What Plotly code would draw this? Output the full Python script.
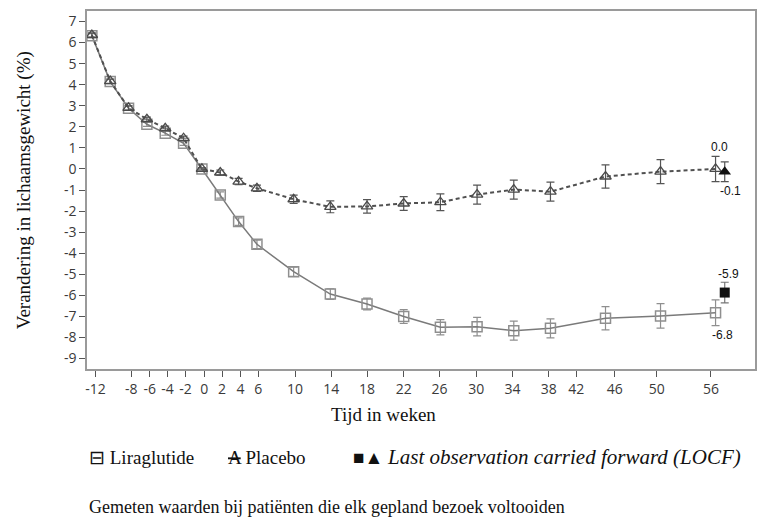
import plotly.graph_objects as go

# ---- data ----
weeks = [-12, -10, -8, -6, -4, -2, 0, 2, 4, 6, 10, 14, 18, 22, 26, 30, 34, 38, 44, 50, 56]
lira = [6.33, 4.15, 2.88, 2.12, 1.70, 1.22, 0.0, -1.24, -2.50, -3.58, -4.88, -5.94, -6.41, -7.01,
        -7.52, -7.49, -7.68, -7.57, -7.09, -6.98, -6.83]
lira_err = [0.1, 0.1, 0.1, 0.1, 0.1, 0.1, 0.05, 0.15, 0.18, 0.2, 0.22, 0.25, 0.28, 0.33,
            0.36, 0.44, 0.45, 0.45, 0.55, 0.58, 0.61]
placebo = [6.36, 4.17, 2.90, 2.36, 1.93, 1.46, 0.0, -0.17, -0.60, -0.92, -1.44, -1.80, -1.78,
           -1.64, -1.58, -1.22, -0.98, -1.08, -0.36, -0.13, 0.0]
placebo_err = [0.1, 0.1, 0.1, 0.1, 0.1, 0.1, 0.05, 0.12, 0.15, 0.15, 0.2, 0.28, 0.32, 0.33,
               0.4, 0.45, 0.45, 0.45, 0.55, 0.57, 0.6]
locf_week = 57
locf_lira = -5.87
locf_lira_err = 0.49
locf_placebo = -0.13
locf_placebo_err = 0.47

# tick marks sit slightly off the week grid in the original figure
tick_pos = [-11.6, -7.7, -5.7, -3.75, -1.8, 0.25, 2.2, 4.2, 6.15, 10.15, 14.1, 18.0, 22.0,
            25.9, 29.9, 33.85, 37.8, 40.8, 45.0, 49.6, 55.5]
tick_text = ["-12", "-8", "-6", "-4", "-2", "0", "2", "4", "6", "10", "14", "18", "22", "26",
             "30", "34", "38", "42", "46", "50", "56"]
y_ticks = list(range(-9, 8))

x_title = "Tijd in weken"
y_title = "Verandering in lichaamsgewicht (%)"
legend_lira = "Liraglutide"
legend_placebo = "Placebo"
legend_locf = "Last observation carried forward (LOCF)"
footnote = "Gemeten waarden bij patiënten die elk gepland bezoek voltooiden"

LIRA_C = "#8f8f8f"
PLAC_C = "#4a4a4a"

fig = go.Figure()

fig.add_trace(go.Scatter(
    x=weeks, y=lira, mode="lines+markers",
    line=dict(color="#7a7a7a", width=1.5),
    marker=dict(symbol="square-open", size=10, color=LIRA_C, line=dict(width=1.5, color=LIRA_C)),
    error_y=dict(type="data", array=lira_err, color=LIRA_C, thickness=1.2, width=4),
    showlegend=False))

fig.add_trace(go.Scatter(
    x=weeks, y=placebo, mode="lines+markers",
    line=dict(color="#505050", width=2, dash="4px,3px"),
    marker=dict(symbol="triangle-up-open", size=10, color=PLAC_C, line=dict(width=1.3, color=PLAC_C)),
    error_y=dict(type="data", array=placebo_err, color="#555555", thickness=1.2, width=4),
    showlegend=False))

fig.add_trace(go.Scatter(
    x=[locf_week], y=[locf_lira], mode="markers",
    marker=dict(symbol="square", size=10, color="#111111"),
    error_y=dict(type="data", array=[locf_lira_err], color="#777777", thickness=1.2, width=4),
    showlegend=False))

fig.add_trace(go.Scatter(
    x=[locf_week], y=[locf_placebo], mode="markers",
    marker=dict(symbol="triangle-up", size=11, color="#111111"),
    error_y=dict(type="data", array=[locf_placebo_err], color="#555555", thickness=1.2, width=4),
    showlegend=False))

val_font = dict(family="Liberation Sans", size=12, color="#111111")
fig.add_annotation(x=weeks[-1], y=placebo[-1], text=f"{placebo[-1]:.1f}", showarrow=False,
                   xshift=4, yshift=22, font=val_font)
fig.add_annotation(x=locf_week, y=locf_placebo, text=f"{locf_placebo:.1f}", showarrow=False,
                   xshift=6, yshift=-19, font=val_font)
fig.add_annotation(x=locf_week, y=locf_lira, text=f"{locf_lira:.1f}", showarrow=False,
                   xshift=4, yshift=19, font=val_font)
fig.add_annotation(x=weeks[-1], y=lira[-1], text=f"{lira[-1]:.1f}", showarrow=False,
                   xshift=7, yshift=-22, font=val_font)

serif = "Liberation Serif"
txt_font = dict(family=serif, size=19, color="#111111")
leg_font = dict(family=serif, size=19, color="#111111")
fig.add_annotation(xref="paper", yref="paper", x=-0.094, y=0.5, xanchor="center", yanchor="middle",
                   text=y_title, textangle=-90, showarrow=False, font=txt_font)
fig.add_annotation(xref="paper", yref="paper", x=(384 - 87) / 670, y=-0.128, xanchor="center",
                   yanchor="middle", text=x_title, showarrow=False, font=txt_font)
fig.add_annotation(xref="paper", yref="paper", x=0.0, y=-0.246, xanchor="left", yanchor="middle",
                   text="⊟ " + legend_lira, showarrow=False, font=leg_font)
fig.add_annotation(xref="paper", yref="paper", x=(226 - 87) / 670, y=-0.246, xanchor="left",
                   yanchor="middle", text="<s>A</s> " + legend_placebo, showarrow=False, font=leg_font)
fig.add_annotation(xref="paper", yref="paper", x=(352 - 87) / 670, y=-0.246, xanchor="left",
                   yanchor="middle",
                   text="■▲ <i><span style='font-size:21px'>" + legend_locf + "</span></i>",
                   showarrow=False, font=leg_font)
fig.add_annotation(xref="paper", yref="paper", x=0.0, y=-0.386, xanchor="left", yanchor="middle",
                   text=footnote, showarrow=False,
                   font=dict(family=serif, size=18, color="#111111"))

axis_common = dict(showgrid=False, zeroline=False, showline=True, linecolor="#9a9a9a",
                   linewidth=1.5, mirror=True, ticks="outside", ticklen=6, tickcolor="#555555",
                   tickwidth=1.3,
                   tickfont=dict(family="Open Sans", size=14, color="#3a3a3a"))

fig.update_xaxes(range=[-12.53, 60.3], tickmode="array", tickvals=tick_pos, ticktext=tick_text,
                 **axis_common)
fig.update_yaxes(range=[-9.5, 7.5], tickmode="array", tickvals=y_ticks,
                 ticktext=[str(v) for v in y_ticks], **axis_common)

fig.update_layout(width=758, height=519, margin=dict(l=87, r=1, t=11, b=150),
                  plot_bgcolor="white", paper_bgcolor="white")

fig.write_html("out.html")
